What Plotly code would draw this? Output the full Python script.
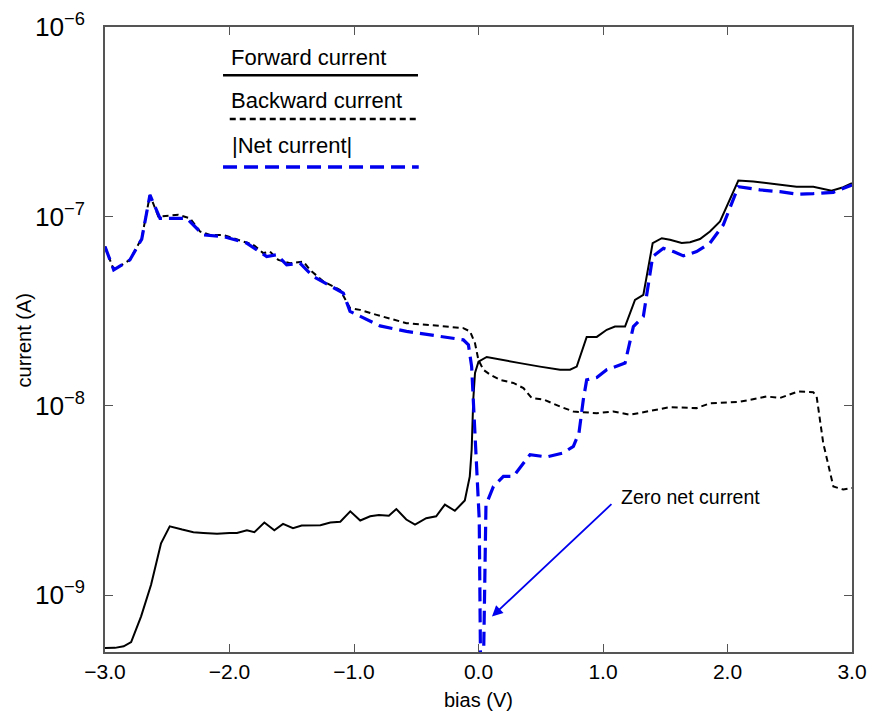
import plotly.graph_objects as go

# ---------------- data ----------------
bias_fwd = [-3.0, -2.92, -2.85, -2.79, -2.71, -2.63, -2.55, -2.48, -2.38, -2.29, -2.21, -2.10,
            -2.00, -1.94, -1.86, -1.80, -1.72, -1.64, -1.57, -1.49, -1.42, -1.27, -1.19, -1.11,
            -1.03, -0.95, -0.87, -0.80, -0.72, -0.66, -0.58, -0.51, -0.42, -0.34, -0.27, -0.19,
            -0.11, -0.07, -0.055, -0.042, -0.028, 0.0, 0.066, 0.2, 0.333, 0.494, 0.58, 0.655,
            0.735, 0.789, 0.869, 0.95, 1.03, 1.096, 1.177, 1.257, 1.324, 1.399, 1.472, 1.538,
            1.632, 1.699, 1.779, 1.859, 1.94, 2.087, 2.207, 2.368, 2.555, 2.689, 2.836, 2.93, 3.0]
fwd = [5.26e-10, 5.27e-10, 5.37e-10, 5.66e-10, 7.73e-10, 1.135e-9, 1.88e-9, 2.31e-9, 2.22e-9,
       2.15e-9, 2.13e-9, 2.11e-9, 2.13e-9, 2.13e-9, 2.20e-9, 2.15e-9, 2.42e-9, 2.20e-9, 2.38e-9,
       2.26e-9, 2.33e-9, 2.34e-9, 2.42e-9, 2.44e-9, 2.77e-9, 2.48e-9, 2.61e-9, 2.65e-9, 2.63e-9,
       2.85e-9, 2.51e-9, 2.36e-9, 2.55e-9, 2.61e-9, 3.01e-9, 2.79e-9, 3.16e-9, 4.24e-9, 5.86e-9,
       1.08e-8, 1.49e-8, 1.71e-8, 1.81e-8, 1.75e-8, 1.68e-8, 1.61e-8, 1.58e-8, 1.55e-8, 1.55e-8,
       1.61e-8, 2.31e-8, 2.31e-8, 2.52e-8, 2.62e-8, 2.62e-8, 3.62e-8, 3.85e-8, 7.23e-8, 7.67e-8,
       7.52e-8, 7.23e-8, 7.31e-8, 7.59e-8, 8.32e-8, 9.40e-8, 1.545e-7, 1.528e-7, 1.486e-7,
       1.435e-7, 1.435e-7, 1.368e-7, 1.426e-7, 1.496e-7]

bias_bwd = [-3.0, -2.93, -2.80, -2.705, -2.639, -2.572, -2.411, -2.317, -2.237, -2.157, -2.05,
            -1.916, -1.809, -1.729, -1.675, -1.608, -1.514, -1.407, -1.353, -1.246, -1.112,
            -1.032, -0.952, -0.818, -0.684, -0.578, -0.39, -0.122, -0.068, -0.028, -0.001,
            0.039, 0.093, 0.173, 0.28, 0.361, 0.427, 0.521, 0.655, 0.762, 0.95, 1.083, 1.217,
            1.351, 1.538, 1.752, 1.859, 2.1, 2.314, 2.421, 2.568, 2.689, 2.716, 2.769, 2.85,
            2.93, 3.0]
bwd = [6.93e-8, 5.22e-8, 5.89e-8, 7.67e-8, 1.297e-7, 9.98e-8, 1.019e-7, 9.77e-8, 8.32e-8,
       7.98e-8, 7.98e-8, 7.43e-8, 7.08e-8, 6.40e-8, 6.52e-8, 5.89e-8, 5.66e-8, 5.78e-8,
       5.22e-8, 4.53e-8, 4.09e-8, 3.28e-8, 3.21e-8, 3.02e-8, 2.84e-8, 2.73e-8, 2.67e-8,
       2.57e-8, 2.47e-8, 2.14e-8, 1.75e-8, 1.55e-8, 1.46e-8, 1.37e-8, 1.32e-8, 1.24e-8,
       1.10e-8, 1.08e-8, 9.91e-9, 9.33e-9, 9.14e-9, 9.33e-9, 8.97e-9, 9.33e-9, 9.84e-9,
       9.72e-9, 1.03e-8, 1.05e-8, 1.12e-8, 1.10e-8, 1.19e-8, 1.18e-8, 1.12e-8, 6.35e-9,
       3.75e-9, 3.61e-9, 3.68e-9]

bias_net = [-3.0, -2.93, -2.80, -2.705, -2.639, -2.558, -2.344, -2.21, -2.05, -1.862, -1.701,
            -1.621, -1.541, -1.434, -1.327, -1.086, -1.032, -0.952, -0.791, -0.578, -0.39,
            -0.202, -0.122, -0.081, -0.055, -0.042, -0.028, -0.007, 0.006, 0.025, 0.06, 0.12,
            0.2, 0.28, 0.414, 0.548, 0.682, 0.762, 0.807, 0.842, 0.869, 0.95, 1.03, 1.177,
            1.244, 1.324, 1.399, 1.485, 1.565, 1.646, 1.752, 1.859, 1.966, 2.087, 2.261, 2.421,
            2.555, 2.689, 2.85, 3.0]
net = [6.93e-8, 5.22e-8, 5.89e-8, 7.59e-8, 1.297e-7, 9.77e-8, 9.77e-8, 7.98e-8, 7.83e-8,
       7.23e-8, 6.14e-8, 6.27e-8, 5.55e-8, 5.66e-8, 4.81e-8, 3.94e-8, 3.15e-8, 2.96e-8,
       2.64e-8, 2.47e-8, 2.37e-8, 2.28e-8, 2.23e-8, 2.10e-8, 1.61e-8, 1.08e-8, 7.18e-9,
       3.91e-9, 2.50e-9, 1.0e-10, 3.0e-9, 3.75e-9, 4.24e-9, 4.24e-9, 5.52e-9, 5.37e-9,
       5.64e-9, 6.11e-9, 7.18e-9, 1.08e-8, 1.37e-8, 1.41e-8, 1.55e-8, 1.68e-8, 2.62e-8,
       2.96e-8, 6.14e-8, 6.79e-8, 6.52e-8, 6.19e-8, 6.52e-8, 7.23e-8, 9.02e-8, 1.435e-7,
       1.38e-7, 1.35e-7, 1.31e-7, 1.32e-7, 1.34e-7, 1.466e-7]

x_ticks = [-3, -2, -1, 0, 1, 2, 3]
x_ticklabels = ["\u22123.0", "\u22122.0", "\u22121.0", "0.0", "1.0", "2.0", "3.0"]
legend_labels = ["Forward current", "Backward current", "|Net current|"]
annotation_text = "Zero net current"
x_title = "bias (V)"
y_title = "current (A)"

FONT = "Liberation Sans, Arial, Helvetica, sans-serif"
AXC = "#555555"
BLUE = "#0000ee"

fig = go.Figure()
fig.add_trace(go.Scatter(x=bias_fwd, y=fwd, mode="lines", name=legend_labels[0],
                         line=dict(color="black", width=2)))
fig.add_trace(go.Scatter(x=bias_bwd, y=bwd, mode="lines", name=legend_labels[1],
                         line=dict(color="black", width=2, dash="6px,4px")))
fig.add_trace(go.Scatter(x=bias_net, y=net, mode="lines", name=legend_labels[2],
                         line=dict(color=BLUE, width=3.2, dash="14px,7px")))

# custom legend (text above line sample)
leg = [
    (0.166, 0.952, 0.158, 0.419, 0.923, dict(color="black", width=2.5)),
    (0.166, 0.882, 0.167, 0.416, 0.853, dict(color="black", width=2.5, dash="6px,4px")),
    (0.168, 0.811, 0.158, 0.420, 0.776, dict(color=BLUE, width=3.5, dash="14px,7px")),
]
for lab, (tx, ty, x0, x1, ly, ln) in zip(legend_labels, leg):
    fig.add_annotation(x=tx, y=ty, xref="paper", yref="paper", text=lab, showarrow=False,
                       xanchor="left", yanchor="middle", font=dict(family=FONT, size=22, color="black"))
    fig.add_shape(type="line", xref="paper", yref="paper", x0=x0, x1=x1, y0=ly, y1=ly, line=ln)

# arrow + label
fig.add_annotation(x=0.108, y=-9.113, ax=1.08, ay=-8.512, xref="x", yref="y", axref="x", ayref="y",
                   text="", showarrow=True, arrowhead=2, arrowsize=1.2, arrowwidth=1.8,
                   arrowcolor=BLUE)
fig.add_annotation(x=1.13, y=-8.48, xref="x", yref="y", text=annotation_text, showarrow=False,
                   xanchor="left", yanchor="middle", font=dict(family=FONT, size=19.5, color="black"))

# axis titles
fig.add_annotation(x=0.5, y=-0.077, xref="paper", yref="paper", text=x_title, showarrow=False,
                   xanchor="center", yanchor="middle", font=dict(family=FONT, size=20, color="black"))
fig.add_annotation(x=-0.108, y=0.499, xref="paper", yref="paper", text=y_title, showarrow=False,
                   textangle=-90, xanchor="center", yanchor="middle",
                   font=dict(family=FONT, size=20, color="black"))

fig.update_xaxes(range=[-3, 3], tickvals=x_ticks, ticktext=x_ticklabels, ticks="inside", ticklen=8,
                 tickwidth=1.3, tickcolor=AXC, showline=True, linecolor=AXC, linewidth=1.5,
                 mirror="ticks", showgrid=False, zeroline=False, automargin=False,
                 ticklabelstandoff=0,
                 tickfont=dict(family=FONT, size=21, color="black"))
fig.update_yaxes(type="log", range=[-9.30, -6.0], dtick=1, exponentformat="power", ticks="inside",
                 ticklen=8, tickwidth=1.3, tickcolor=AXC, showline=True, linecolor=AXC, linewidth=1.5,
                 mirror="ticks", showgrid=False, zeroline=False, automargin=False,
                 ticklabelstandoff=14,
                 tickfont=dict(family=FONT, size=21, color="black"))
fig.update_layout(width=869, height=713, margin=dict(l=105, r=17, t=27, b=61),
                  paper_bgcolor="white", plot_bgcolor="white", showlegend=False)

fig.write_html("out.html")
